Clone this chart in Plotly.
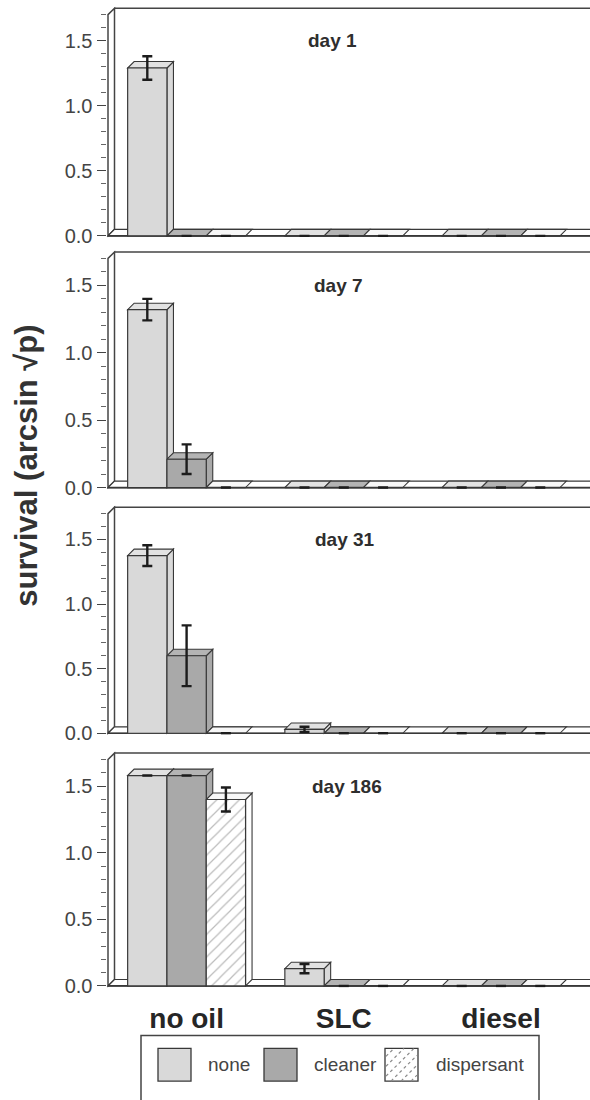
import plotly.graph_objects as go

# ---------------- data ----------------
CATEGORIES = ["no oil", "SLC", "diesel"]
TREATMENTS = ["none", "cleaner", "dispersant"]
DAY_LABELS = ["day 1", "day 7", "day 31", "day 186"]
Y_TICK_LABELS = ["0.0", "0.5", "1.0", "1.5"]
Y_TICK_VALUES = [0.0, 0.5, 1.0, 1.5]

# survival (arcsin sqrt p), per treatment across CATEGORIES
DAY1_NONE = [1.29, 0.0, 0.0]
DAY1_CLEANER = [0.0, 0.0, 0.0]
DAY1_DISPERSANT = [0.0, 0.0, 0.0]
DAY1_NONE_ERR = [0.09, 0.0, 0.0]
DAY1_CLEANER_ERR = [0.0, 0.0, 0.0]
DAY1_DISPERSANT_ERR = [0.0, 0.0, 0.0]

DAY7_NONE = [1.32, 0.0, 0.0]
DAY7_CLEANER = [0.21, 0.0, 0.0]
DAY7_DISPERSANT = [0.0, 0.0, 0.0]
DAY7_NONE_ERR = [0.08, 0.0, 0.0]
DAY7_CLEANER_ERR = [0.11, 0.0, 0.0]
DAY7_DISPERSANT_ERR = [0.0, 0.0, 0.0]

DAY31_NONE = [1.375, 0.03, 0.0]
DAY31_CLEANER = [0.60, 0.0, 0.0]
DAY31_DISPERSANT = [0.0, 0.0, 0.0]
DAY31_NONE_ERR = [0.08, 0.02, 0.0]
DAY31_CLEANER_ERR = [0.235, 0.0, 0.0]
DAY31_DISPERSANT_ERR = [0.0, 0.0, 0.0]

DAY186_NONE = [1.58, 0.13, 0.0]
DAY186_CLEANER = [1.58, 0.0, 0.0]
DAY186_DISPERSANT = [1.40, 0.0, 0.0]
DAY186_NONE_ERR = [0.0, 0.035, 0.0]
DAY186_CLEANER_ERR = [0.0, 0.0, 0.0]
DAY186_DISPERSANT_ERR = [0.09, 0.0, 0.0]

VALUES = [
    [DAY1_NONE, DAY1_CLEANER, DAY1_DISPERSANT],
    [DAY7_NONE, DAY7_CLEANER, DAY7_DISPERSANT],
    [DAY31_NONE, DAY31_CLEANER, DAY31_DISPERSANT],
    [DAY186_NONE, DAY186_CLEANER, DAY186_DISPERSANT],
]
ERRORS = [
    [DAY1_NONE_ERR, DAY1_CLEANER_ERR, DAY1_DISPERSANT_ERR],
    [DAY7_NONE_ERR, DAY7_CLEANER_ERR, DAY7_DISPERSANT_ERR],
    [DAY31_NONE_ERR, DAY31_CLEANER_ERR, DAY31_DISPERSANT_ERR],
    [DAY186_NONE_ERR, DAY186_CLEANER_ERR, DAY186_DISPERSANT_ERR],
]

# ---------------- layout constants ----------------
W, H = 590, 1100
ZERO_PX = [238, 492, 740, 995]          # pixel row of the value 0 per panel
PX_PER_UNIT = [131.3, 136.0, 130.4, 134.4]
DEPTH_PX = 6.5
PAD_PX = 1.5
Y_TOP = 1.7
X_LEFT_PX = 108
SLOT_PX = 39.3
CAT_PX = 4 * SLOT_PX
BARGAP = 0.25
BAR_W = (1 - BARGAP) / 3
X0 = -0.5
X1 = X0 + (W - X_LEFT_PX) / CAT_PX
DX = DEPTH_PX / CAT_PX
TITLE_X = [0.93, 0.965, 1.005, 1.02]

FONT = "Liberation Sans, Arial, Helvetica, sans-serif"
OUTLINE = "#383838"
FRAME = "#444444"
FILL = {"none": "#d9d9d9", "cleaner": "#a9a9a9", "dispersant": "#ffffff"}
FACE = {"none": "#e2e2e2", "cleaner": "#b4b4b4", "dispersant": "#f7f7f7"}

fig = go.Figure()
shapes = []
annotations = []
layout_axes = {}

for k in range(4):
    suf = "" if k == 0 else str(k + 1)
    xr, yr = "x" + suf, "y" + suf
    s = PX_PER_UNIT[k]
    dy = DEPTH_PX / s
    pady = PAD_PX / s
    bottom_px = ZERO_PX[k] + PAD_PX
    top_px = ZERO_PX[k] - (Y_TOP * s + DEPTH_PX + PAD_PX)
    ydom = [1 - bottom_px / H, 1 - top_px / H]
    padx = PAD_PX / CAT_PX
    xdom = [(X_LEFT_PX - PAD_PX) / W, 1.0]

    layout_axes["xaxis" + suf] = dict(
        domain=xdom, range=[X0 - padx, X1], anchor=yr, type="category",
        categoryorder="array", categoryarray=CATEGORIES,
        showline=False, showgrid=False, zeroline=False, ticks="",
        showticklabels=(k == 3),
        tickfont=dict(family=FONT, size=28, color="#262626", weight="bold"),
        ticklabelstandoff=12, fixedrange=True,
    )
    layout_axes["yaxis" + suf] = dict(
        domain=ydom, range=[-pady, Y_TOP + dy + pady], anchor=xr,
        tickmode="array", tickvals=Y_TICK_VALUES, ticktext=Y_TICK_LABELS,
        ticks="outside", ticklen=9, tickwidth=1.2, tickcolor="#444",
        minor=dict(tickmode="linear", tick0=0, dtick=0.1, ticks="outside",
                   ticklen=5, tickwidth=1, tickcolor="#666"),
        showline=False, showgrid=False, zeroline=False,
        tickfont=dict(family=FONT, size=20, color="#444444"),
        fixedrange=True,
    )

    def add_shape(**kw):
        d = dict(xref=xr, yref=yr, layer="below")
        d.update(kw)
        shapes.append(d)

    # left wall
    add_shape(type="path",
              path=f"M {X0},0 L {X0+DX},{dy} L {X0+DX},{Y_TOP+dy} L {X0},{Y_TOP} Z",
              fillcolor="white", line=dict(color=FRAME, width=1.5))
    # back top edge
    add_shape(type="line", x0=X0 + DX, y0=Y_TOP + dy, x1=X1 + 1, y1=Y_TOP + dy,
              line=dict(color=FRAME, width=1.5))
    # floor
    add_shape(type="path",
              path=f"M {X0},0 L {X1+1},0 L {X1+1+DX},{dy} L {X0+DX},{dy} Z",
              fillcolor="white", line=dict(color=OUTLINE, width=1.2))

    # bar top & side faces (3-D look), drawn from the data
    for i, cat in enumerate(CATEGORIES):
        for j, tr in enumerate(TREATMENTS):
            v = VALUES[k][j][i]
            c = i + (j - 1) * BAR_W
            a, b = c - BAR_W / 2, c + BAR_W / 2
            if v > 0:
                add_shape(type="path",
                          path=f"M {b},0 L {b+DX},{dy} L {b+DX},{v+dy} L {b},{v} Z",
                          fillcolor=FILL[tr], line=dict(color=OUTLINE, width=1.1))
            add_shape(type="path",
                      path=f"M {a},{v} L {b},{v} L {b+DX},{v+dy} L {a+DX},{v+dy} Z",
                      fillcolor=FACE[tr], line=dict(color=OUTLINE, width=1.1))

    # front floor edge
    add_shape(type="line", x0=X0, y0=0, x1=X1 + 1, y1=0,
              line=dict(color=OUTLINE, width=1.7))

    for j, tr in enumerate(TREATMENTS):
        marker = dict(color=FILL[tr], line=dict(color=OUTLINE, width=1.2))
        if tr == "dispersant":
            marker["pattern"] = dict(shape="/", fgcolor="#777777", bgcolor="white",
                                     size=8, solidity=0.15)
        fig.add_trace(go.Bar(
            x=CATEGORIES, y=VALUES[k][j], name=tr, xaxis=xr, yaxis=yr,
            marker=marker, showlegend=False,
            error_y=dict(type="data", array=ERRORS[k][j], visible=True,
                         color="#1c1c1c", thickness=2.4, width=5),
        ))

    annotations.append(dict(
        xref=xr, yref=yr, x=TITLE_X[k], y=1.5, text=DAY_LABELS[k],
        showarrow=False, xanchor="center", yanchor="middle",
        font=dict(family=FONT, size=19, color="#2e2e2e", weight="bold"),
    ))

# y-axis title
annotations.append(dict(
    xref="paper", yref="paper", x=27 / W, y=1 - 470 / H,
    text="survival (arcsin √p)", textangle=-90, showarrow=False,
    xanchor="center", yanchor="middle",
    font=dict(family=FONT, size=31, color="#333333", weight="bold"),
))

# ---------------- legend (drawn as a key box) ----------------
def px_x(px):
    return px / W


def px_y(py):
    return 1 - py / H


shapes.append(dict(type="rect", xref="paper", yref="paper",
                   x0=px_x(141), x1=px_x(539), y0=px_y(1045), y1=px_y(1115),
                   line=dict(color="#444", width=1.5), fillcolor="white", layer="above"))
SWATCH_X = [158, 264, 385]
TEXT_X = [206, 312, 434]
SW = 33
SY0, SY1 = 1058, 1091
for j, tr in enumerate(TREATMENTS):
    shapes.append(dict(type="rect", xref="paper", yref="paper",
                       x0=px_x(SWATCH_X[j]), x1=px_x(SWATCH_X[j] + SW),
                       y0=px_y(SY1), y1=px_y(SY0),
                       fillcolor=FILL[tr], line=dict(color=OUTLINE, width=1.3),
                       layer="above"))
    annotations.append(dict(xref="paper", yref="paper", x=px_x(TEXT_X[j]), y=px_y(1074),
                            text=tr, showarrow=False, xanchor="left", yanchor="middle",
                            font=dict(family=FONT, size=19, color="#444")))
# dotted hatch in dispersant key
sx0, sx1 = SWATCH_X[2] + 1, SWATCH_X[2] + SW - 1
for cval in range(SY0 + sx0 + 8, SY1 + sx1 - 4, 10):
    xa = max(sx0, cval - SY1)
    xb = min(sx1, cval - SY0)
    if xb - xa < 3:
        continue
    shapes.append(dict(type="line", xref="paper", yref="paper",
                       x0=px_x(xa), y0=px_y(cval - xa), x1=px_x(xb), y1=px_y(cval - xb),
                       line=dict(color="#8a8a8a", width=1.2, dash="dot"), layer="above"))

fig.update_layout(
    width=W, height=H, margin=dict(l=0, r=0, t=0, b=0),
    paper_bgcolor="white", plot_bgcolor="white",
    barmode="group", bargap=BARGAP, bargroupgap=0,
    shapes=shapes, annotations=annotations, showlegend=False,
    **layout_axes,
)

fig.write_html("out.html")
